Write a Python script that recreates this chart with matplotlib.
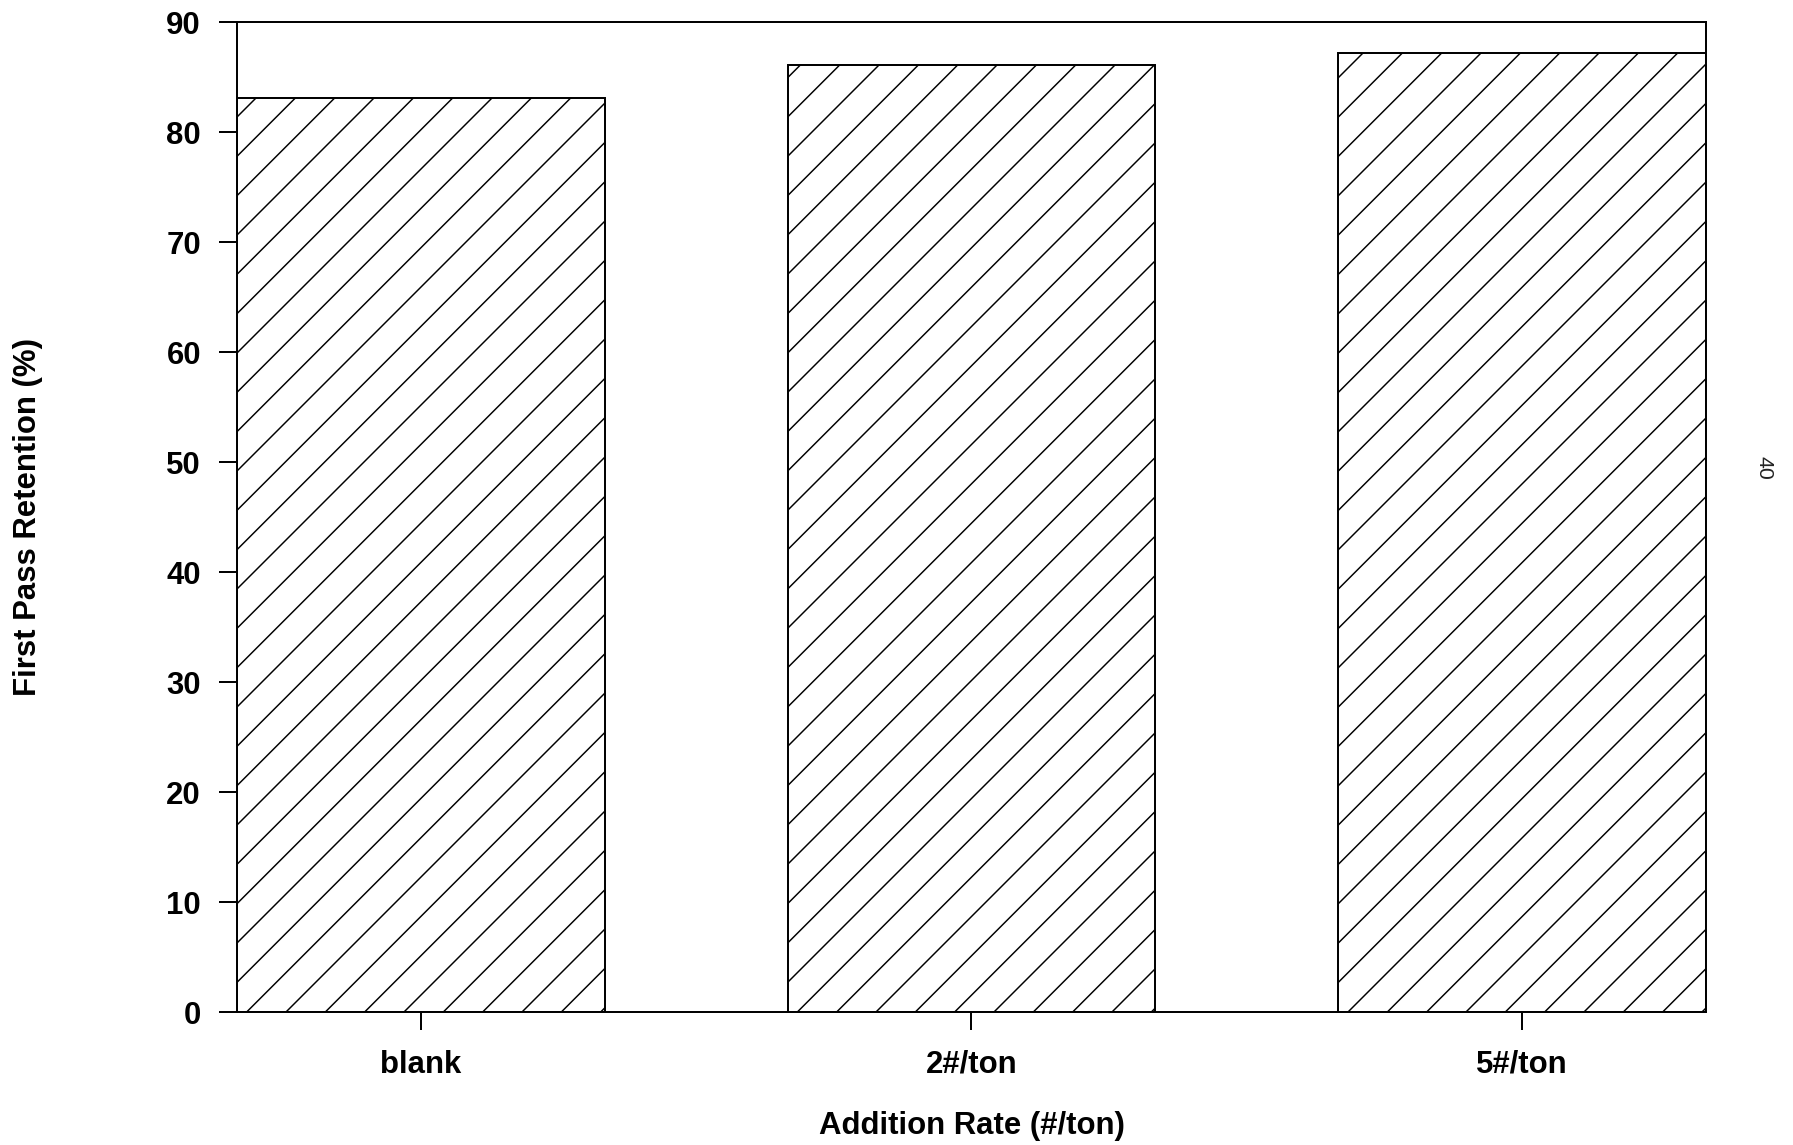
import matplotlib
matplotlib.use("Agg")
import matplotlib.pyplot as plt
import numpy as np

# Data
categories = ["blank", "2#/ton", "5#/ton"]
retention = [83.1, 86.1, 87.2]
yticks = [0, 10, 20, 30, 40, 50, 60, 70, 80, 90]

DPI = 236
W, H = 1793, 1145
plt.rcParams['font.family'] = ['Liberation Sans', 'DejaVu Sans']
plt.rcParams['font.weight'] = 'bold'
plt.rcParams['hatch.linewidth'] = 0.45

fig = plt.figure(figsize=(W / DPI, H / DPI), dpi=DPI)
ax = fig.add_axes([237 / W, 1 - 1012 / H, (1706 - 237) / W, (1012 - 22) / H])

x = np.arange(len(categories))
bar_w = 0.668
ax.bar(x, retention, width=bar_w, facecolor='white', edgecolor='black',
       linewidth=0.6, hatch='//')

ax.set_xlim(x[0] - bar_w / 2, x[-1] + bar_w / 2)
ax.set_ylim(0, 90)
ax.set_yticks(yticks)
ax.set_xticks(x)
ax.set_xticklabels(categories)

for s in ax.spines.values():
    s.set_linewidth(0.6)
    s.set_color('black')

ax.tick_params(axis='both', direction='out', length=5.5, width=0.6,
               labelsize=9.5, colors='black')
ax.tick_params(axis='y', pad=5.5)
ax.tick_params(axis='x', pad=6)

ax.set_ylabel("First Pass Retention (%)", fontsize=9.5, fontweight='bold', va='center')
ax.yaxis.set_label_coords((28 - 237) / (1706 - 237), 0.5)
ax.set_xlabel("Addition Rate (#/ton)", fontsize=9.5, fontweight='bold', va='center')
ax.xaxis.set_label_coords(0.5, (1012 - 1126) / (1012 - 22))

# page number
fig.text(1764 / W, 1 - 468 / H, "40", rotation=-90, ha='center', va='center',
         fontsize=6.5, fontweight='normal', color='#222222')

fig.savefig("out.png", dpi=DPI, facecolor='white')
